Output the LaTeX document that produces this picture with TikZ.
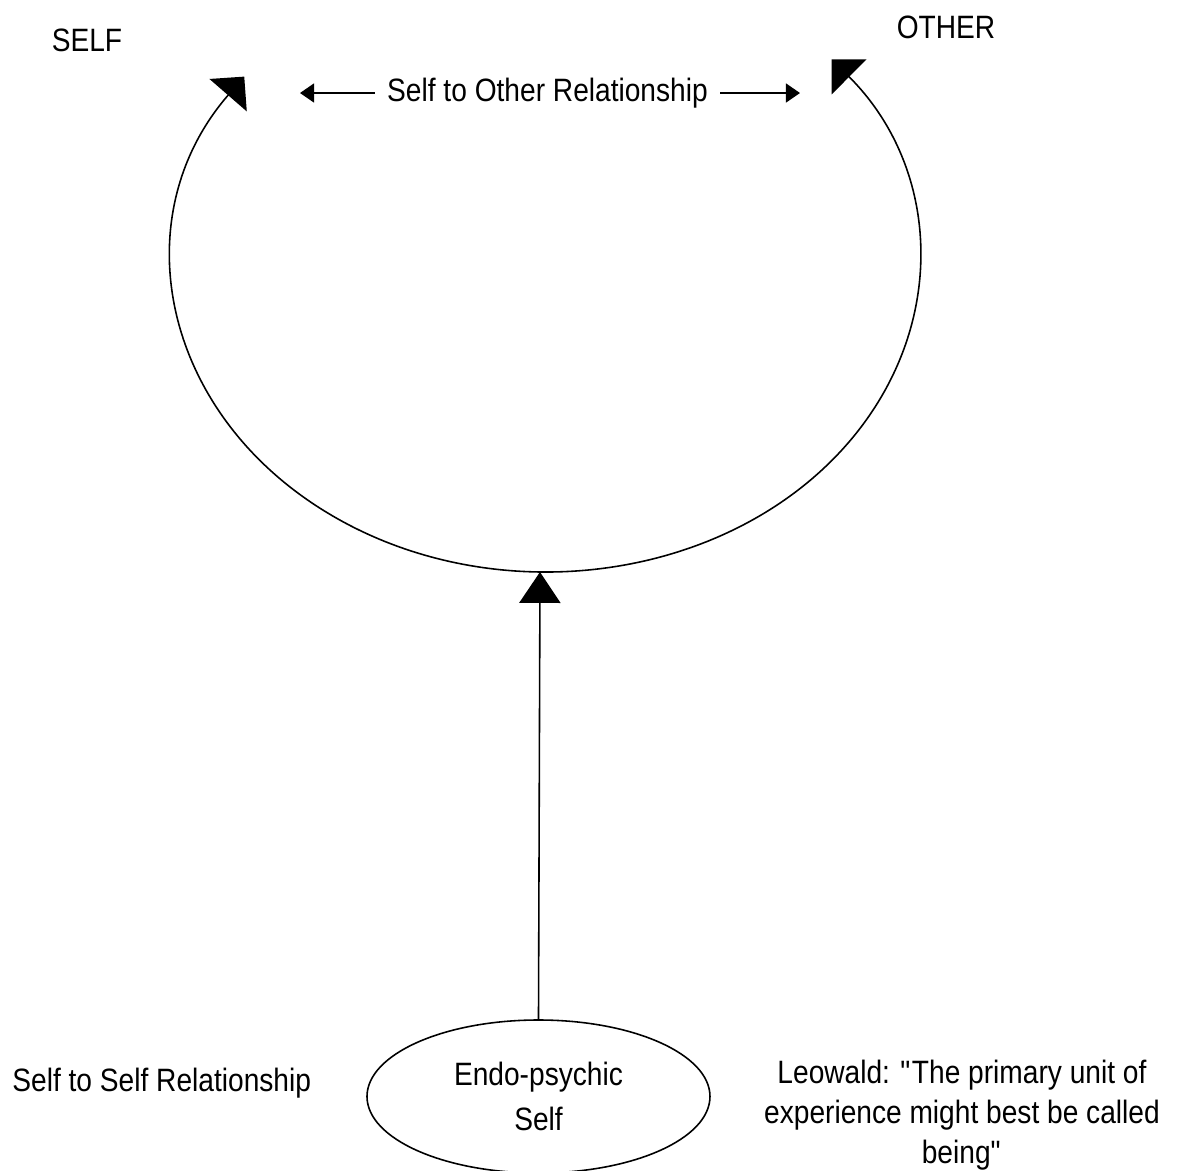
\documentclass[tikz,border=0pt]{standalone}
\usepackage{fontspec}
\setmainfont{Liberation Sans}[FakeStretch=0.87]
\usepackage{tikz}
\usetikzlibrary{shapes,arrows,positioning,calc,arrows.meta}

\begin{document}
\begin{tikzpicture}[
    lbl/.style={font=\fontsize{9.2}{10.2}\selectfont, align=center},
    line/.style={line width=0.45pt},
    bigtips/.style={{Triangle[length=7pt, width=14pt]}-{Triangle[length=7pt, width=14pt]}},
    midtip/.style={-{Triangle[length=8.8pt, width=11.7pt]}},
    smalltip/.style={-{Triangle[length=4pt, width=5.4pt]}}
]
    \useasboundingbox (0,0) rectangle (11.82,-11.71);

    % labels
    \node[lbl] (self) at (0.87,-0.40) {SELF};
    \node[lbl] (other) at (9.46,-0.27) {OTHER};
    \node[lbl] (rel) at (5.475,-0.93) {Self to Other Relationship};
    \node[lbl, anchor=west] (selfrel) at (0.00,-10.83) {Self to Self Relationship};
    \node[ellipse, draw, line, minimum width=3.43cm, minimum height=1.53cm, lbl]
        (endo) at (5.385,-10.965) {Endo-psychic\\[2.5pt]Self};
    \node[lbl] (quote) at (9.62,-11.15) {Leowald: \textquotedbl The primary unit of\\[1.2pt]experience might best be called\\[1.2pt]being\textquotedbl};

    % relationship arrows
    \coordinate (lefttip) at (3.00,-0.93);
    \coordinate (righttip) at (8.00,-0.93);
    \draw[line, smalltip] (rel.west) -- (lefttip);
    \draw[line, smalltip] (rel.east) -- (righttip);

    % big loop
    \draw[line, bigtips] (5.46,-2.60) ++(144:3.73 and 3.12)
        arc[start angle=144, end angle=400, x radius=3.73, y radius=3.12];
    \coordinate (loopbottom) at (5.40,-5.72);
    \draw[line, midtip] (endo.north) -- (loopbottom);
\end{tikzpicture}
\end{document}
